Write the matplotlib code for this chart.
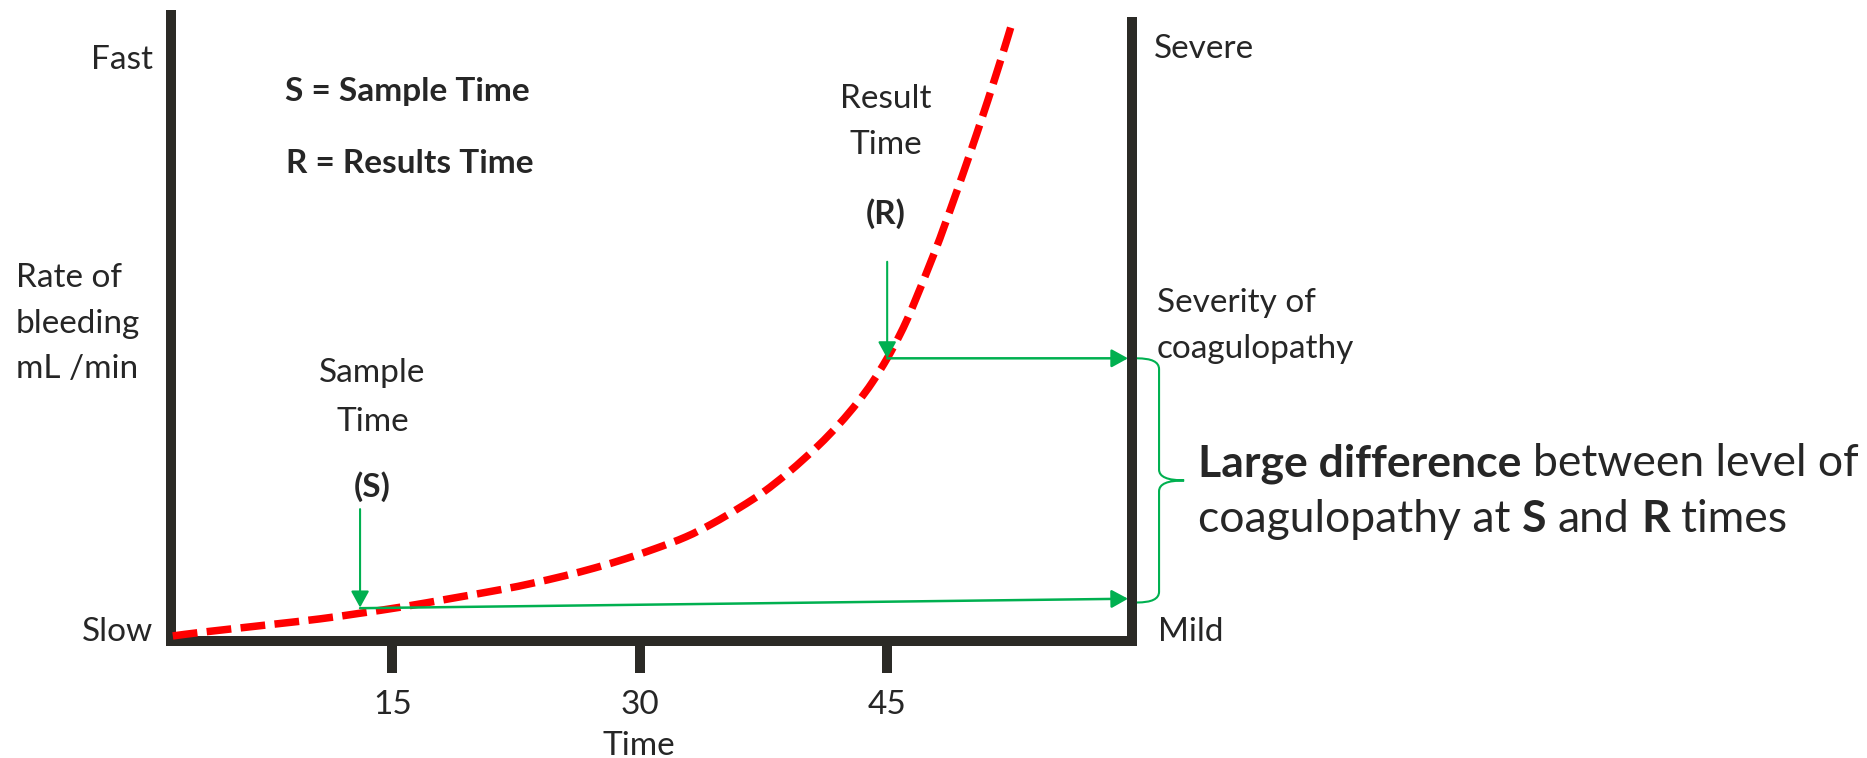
import numpy as np
import matplotlib
matplotlib.use("Agg")
import matplotlib.pyplot as plt
from matplotlib.path import Path
from matplotlib.patches import PathPatch

# ---- data -------------------------------------------------------------
# Bleeding-rate curve: time in minutes vs. rate of bleeding (0-100 scale)
time_min = [1.7, 3.5, 7.6, 10.6, 13.05, 15.6, 18.7, 21.7, 23.4, 25.4,
            27.3, 29.1, 30.9, 32.8, 34.4, 36.1, 37.5, 39.1, 40.8, 42.1,
            43.2, 44.1, 45.0, 45.8, 46.5, 47.8, 48.5, 49.2, 50.0, 50.8,
            51.4, 52.1, 52.6]
bleed_rate = [0.8, 1.4, 2.6, 3.5, 4.4, 5.4, 6.8, 8.2, 9.1, 10.3,
              11.6, 13.0, 14.6, 16.5, 18.6, 21.2, 23.6, 26.9, 30.9, 34.4,
              37.8, 41.0, 44.8, 48.7, 52.7, 61.1, 66.0, 71.1, 77.1, 83.3,
              88.1, 93.9, 98.2]

time_ticks = [15, 30, 45]
time_tick_labels = ["15", "30", "45"]

sample_time = 13.05      # S
result_time = 45.0       # R
sample_mark = 5.3        # level where the S arrow meets the curve
result_mark = 44.8       # level where the R arrow meets the curve
sample_severity = 6.7    # where the S level meets the severity axis
result_severity = 44.8   # where the R level meets the severity axis
sample_arrow_top = 20.9
result_arrow_top = 60.1

# ---- styling ------------------------------------------------------------
W, H = 1867, 758
TEXT = "#262626"
AXIS = "#2B2A26"
GREEN = "#00B050"
RED = "#FF0000"
LABEL_PT = 24
BIG_PT = 32

plt.rcParams["font.family"] = ["Lato", "DejaVu Sans"]

fig = plt.figure(figsize=(W / 100, H / 100), dpi=100)
fig.patch.set_facecolor("white")

x_left, x_right = 1.56, 59.84
ax = fig.add_axes([170.5 / W, 1 - 641 / H, (1132 - 170.5) / W, (641 - 10) / H])
ax.set_xlim(x_left, x_right)
ax.set_ylim(0, 100)
ax.set_facecolor("none")

for side in ("left", "bottom", "right"):
    sp = ax.spines[side]
    sp.set_linewidth(7.2)
    sp.set_color(AXIS)
    sp.set_capstyle("projecting")
ax.spines["top"].set_visible(False)
ax.spines["left"].set_bounds(0, 99.2)
ax.spines["right"].set_bounds(0, 98.1)

ax.set_xticks(time_ticks)
ax.set_xticklabels(time_tick_labels)
ax.tick_params(axis="x", length=23, width=7.2, color=AXIS, pad=12,
               labelsize=LABEL_PT, labelcolor=TEXT, direction="out")
ax.tick_params(axis="y", left=False, labelleft=False)
ax.set_xlabel("Time", fontsize=LABEL_PT, color=TEXT)
ax.xaxis.set_label_coords(0.487, -0.1426)


# bleeding curve: smooth Bezier path through every measured point
def smooth_path(xs, ys):
    p = np.column_stack([xs, ys]).astype(float)
    ext = np.vstack([2 * p[0] - p[1], p, 2 * p[-1] - p[-2]])
    verts = [tuple(p[0])]
    codes = [Path.MOVETO]
    for i in range(1, len(ext) - 2):
        c1 = ext[i] + (ext[i + 1] - ext[i - 1]) / 6
        c2 = ext[i + 1] - (ext[i + 2] - ext[i]) / 6
        verts += [tuple(c1), tuple(c2), tuple(ext[i + 1])]
        codes += [Path.CURVE4] * 3
    return Path(verts, codes)


curve = PathPatch(smooth_path(time_min, bleed_rate), fill=False,
                  edgecolor=RED, lw=5.4, linestyle=(0, (3.3, 1.25)),
                  capstyle="butt", clip_on=False, zorder=3)
ax.add_patch(curve)

arrow_style = "-|>,head_length=1.0,head_width=0.55"


def arrow(p_from, p_to, lw=1.5):
    ax.annotate("", xy=p_to, xytext=p_from, xycoords="data",
                arrowprops=dict(arrowstyle=arrow_style, color=GREEN, lw=lw,
                                shrinkA=0, shrinkB=0, mutation_scale=10),
                annotation_clip=False, zorder=4)


tip_x = x_right - 0.24
arrow((sample_time, sample_arrow_top), (sample_time, sample_mark))
arrow((result_time, result_arrow_top), (result_time, result_mark))
arrow((sample_time, sample_mark - 0.1), (tip_x, sample_severity), lw=1.8)
arrow((result_time, result_mark), (tip_x, result_severity), lw=1.8)

# curly brace spanning the two severity levels
xs, xv, xt = 60.14, 61.48, 63.0
yt, yb = result_severity, sample_severity - 0.6
ym = (yt + yb) / 2
r = 1.7
verts = [(xs, yt), (xv, yt), (xv, yt - r),
         (xv, ym + r),
         (xv, ym), (xt, ym),
         (xv, ym), (xv, ym - r),
         (xv, yb + r),
         (xv, yb), (xs, yb)]
codes = [Path.MOVETO, Path.CURVE3, Path.CURVE3,
         Path.LINETO,
         Path.CURVE3, Path.CURVE3,
         Path.CURVE3, Path.CURVE3,
         Path.LINETO,
         Path.CURVE3, Path.CURVE3]
ax.add_patch(PathPatch(Path(verts, codes), fill=False, edgecolor=GREEN,
                       lw=1.5, clip_on=False, zorder=4))


# ---- text ---------------------------------------------------------------
def put(px, py, s, ha="left", weight="normal", size=LABEL_PT):
    return fig.text(px / W, 1 - py / H, s, ha=ha, va="baseline",
                    fontsize=size, fontweight=weight, color=TEXT)


put(153, 69, "Fast", ha="right")
put(153, 641, "Slow", ha="right")
put(285, 101, "S = Sample Time", weight="bold")
put(286, 173, "R = Results Time", weight="bold")
put(16, 287, "Rate of")
put(16, 333, "bleeding")
put(16, 378, "mL /min")
put(372, 382, "Sample", ha="center")
put(373, 431, "Time", ha="center")
put(372, 497, "(S)", ha="center", weight="bold")
put(886, 108, "Result", ha="center")
put(886, 154, "Time", ha="center")
put(886, 224, "(R)", ha="center", weight="bold")
put(1154, 58, "Severe")
put(1157, 312, "Severity of")
put(1157, 358, "coagulopathy")
put(1158, 641, "Mild")

renderer = fig.canvas.get_renderer()


def text_width(s, weight="normal", size=BIG_PT):
    t = fig.text(0, 0, s, fontsize=size, fontweight=weight)
    w = t.get_window_extent(renderer).width
    t.remove()
    return w


space_w = text_width("n n") - text_width("nn")


def put_runs(px, py, runs, size=BIG_PT):
    x = px
    for s, weight in runs:
        t = put(x, py, s, weight=weight, size=size)
        x = t.get_window_extent(renderer).x1 + space_w


put_runs(1198, 476, [("Large difference", "bold"),
                     ("between level of", "normal")])
put_runs(1198, 532, [("coagulopathy at", "normal"), ("S", "bold"),
                     ("and", "normal"), ("R", "bold"), ("times", "normal")])

fig.savefig("out.png", dpi=100, facecolor="white")
